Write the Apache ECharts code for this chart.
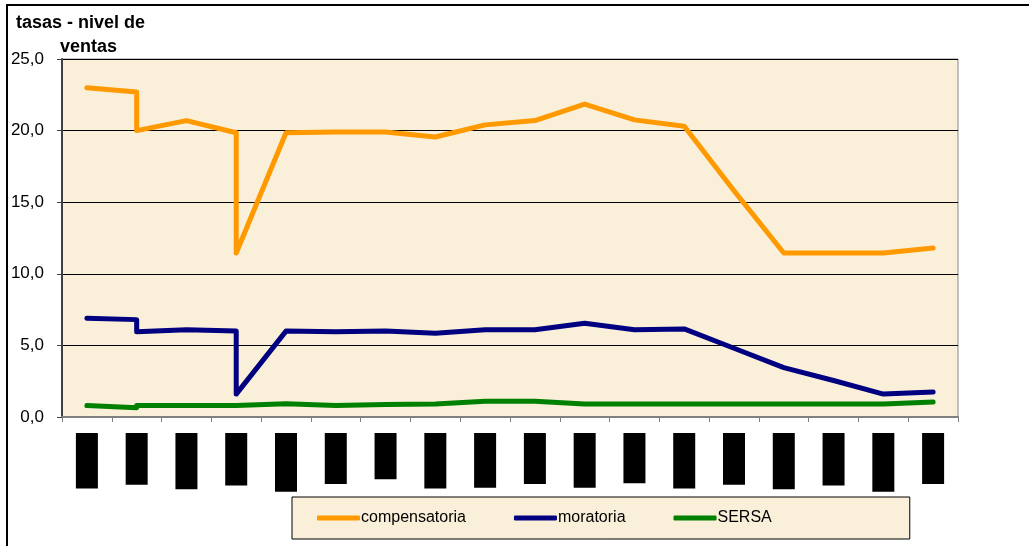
<!DOCTYPE html>
<html>
<head>
<meta charset="utf-8">
<script src="https://cdn.jsdelivr.net/npm/echarts@6/dist/echarts.min.js"></script>
<style>
  html, body { margin: 0; padding: 0; background: #fff; overflow: hidden; }
  #frame { position: absolute; left: 6px; top: 4px; width: 1040px; height: 560px; border: 2px solid #000; box-sizing: border-box; }
  #chart { position: absolute; left: 0; top: 0; width: 1029px; height: 546px; }
</style>
</head>
<body>
<div id="frame"></div>
<div id="chart"></div>
<script>
// categorias del eje x (ilegibles en el original)
const categories = ["ene-04", "feb-04", "mar-04", "abr-04", "may-04", "jun-04", "jul-04", "ago-04", "sep-04",
  "oct-04", "nov-04", "dic-04", "ene-05", "feb-05", "mar-05", "abr-05", "may-05", "jun-05"];

// posicion (indice de categoria) de cada punto; hay saltos verticales en 1 y 3
const pointIndex = [0, 1, 1, 2, 3, 3, 4, 5, 6, 7, 8, 9, 10, 11, 12, 13, 14, 15, 16, 17];

const compensatoria = [23.0, 22.7, 20.0, 20.7, 19.85, 11.45, 19.85, 19.9, 19.9, 19.55, 20.4, 20.7, 21.85, 20.75, 20.3, 15.8, 11.45, 11.45, 11.45, 11.8];
const moratoria = [6.9, 6.8, 5.95, 6.1, 6.0, 1.6, 6.0, 5.95, 6.0, 5.85, 6.1, 6.1, 6.55, 6.1, 6.15, 4.8, 3.45, 2.55, 1.6, 1.75];
const sersa = [0.8, 0.65, 0.8, 0.8, 0.8, 0.9, 0.93, 0.8, 0.88, 0.9, 1.1, 1.1, 0.9, 0.9, 0.9, 0.9, 0.9, 0.9, 0.9, 1.05];

const yTicks = { min: 0, max: 25, interval: 5 };

const COLORS = {
  compensatoria: "#FF9900",
  moratoria: "#000080",
  sersa: "#008000",
  plotBg: "#FAEFD8",
};

const FONT = "'Liberation Sans', Arial, sans-serif";

const toPairs = values => values.map((v, i) => [pointIndex[i], v]);

const makeLine = (name, values, color) => ({
  name,
  type: "line",
  data: toPairs(values),
  showSymbol: false,
  symbol: "none",
  connectNulls: true,
  lineStyle: { color, width: 5, cap: "round", join: "round" },
  itemStyle: { color },
  z: 3,
});

const chart = echarts.init(document.getElementById("chart"));

const option = {
  animation: false,
  textStyle: { fontFamily: FONT },
  title: [
    {
      text: "tasas - nivel de",
      left: 11,
      top: 9,
      textStyle: { fontFamily: FONT, fontSize: 18, fontWeight: "bold", color: "#000" },
    },
    {
      text: "ventas",
      left: 55,
      top: 33,
      textStyle: { fontFamily: FONT, fontSize: 18, fontWeight: "bold", color: "#000" },
    },
  ],
  legend: {
    left: 292,
    top: 497,
    padding: [13, 138, 13, 25],
    itemGap: 48,
    itemWidth: 43,
    itemHeight: 5,
    backgroundColor: COLORS.plotBg,
    borderColor: "#000",
    borderWidth: 1,
    icon: "roundRect",
    textStyle: { fontFamily: FONT, fontSize: 16, color: "#000", padding: [0, 0, 0, -4] },
    data: ["compensatoria", "moratoria", "SERSA"],
  },
  grid: {
    left: 62,
    right: 71,
    top: 59,
    bottom: 129,
    show: true,
    backgroundColor: COLORS.plotBg,
    borderColor: "#888",
    borderWidth: 1,
  },
  xAxis: {
    type: "category",
    data: categories,
    boundaryGap: true,
    axisLine: { lineStyle: { color: "#808080", width: 2 } },
    axisTick: { show: true, interval: 0, length: 5, lineStyle: { color: "#808080" } },
    axisLabel: {
      interval: 0,
      rotate: 90,
      margin: 16,
      fontFamily: FONT,
      fontSize: 14,
      color: "#000",
      backgroundColor: "#000",
      padding: [4, 6],
    },
    splitLine: { show: false },
  },
  yAxis: {
    type: "value",
    min: yTicks.min,
    max: yTicks.max,
    interval: yTicks.interval,
    axisLine: { show: true, lineStyle: { color: "#404040", width: 2 } },
    axisTick: { show: true, length: 5, lineStyle: { color: "#404040" } },
    axisLabel: {
      margin: 18,
      fontFamily: FONT,
      fontSize: 17,
      color: "#000",
      formatter: v => v.toFixed(1).replace(".", ","),
    },
    splitLine: { show: true, lineStyle: { color: "#000", width: 1 } },
  },
  series: [
    makeLine("compensatoria", compensatoria, COLORS.compensatoria),
    makeLine("moratoria", moratoria, COLORS.moratoria),
    makeLine("SERSA", sersa, COLORS.sersa),
  ],
};

chart.setOption(option);
</script>
</body>
</html>
